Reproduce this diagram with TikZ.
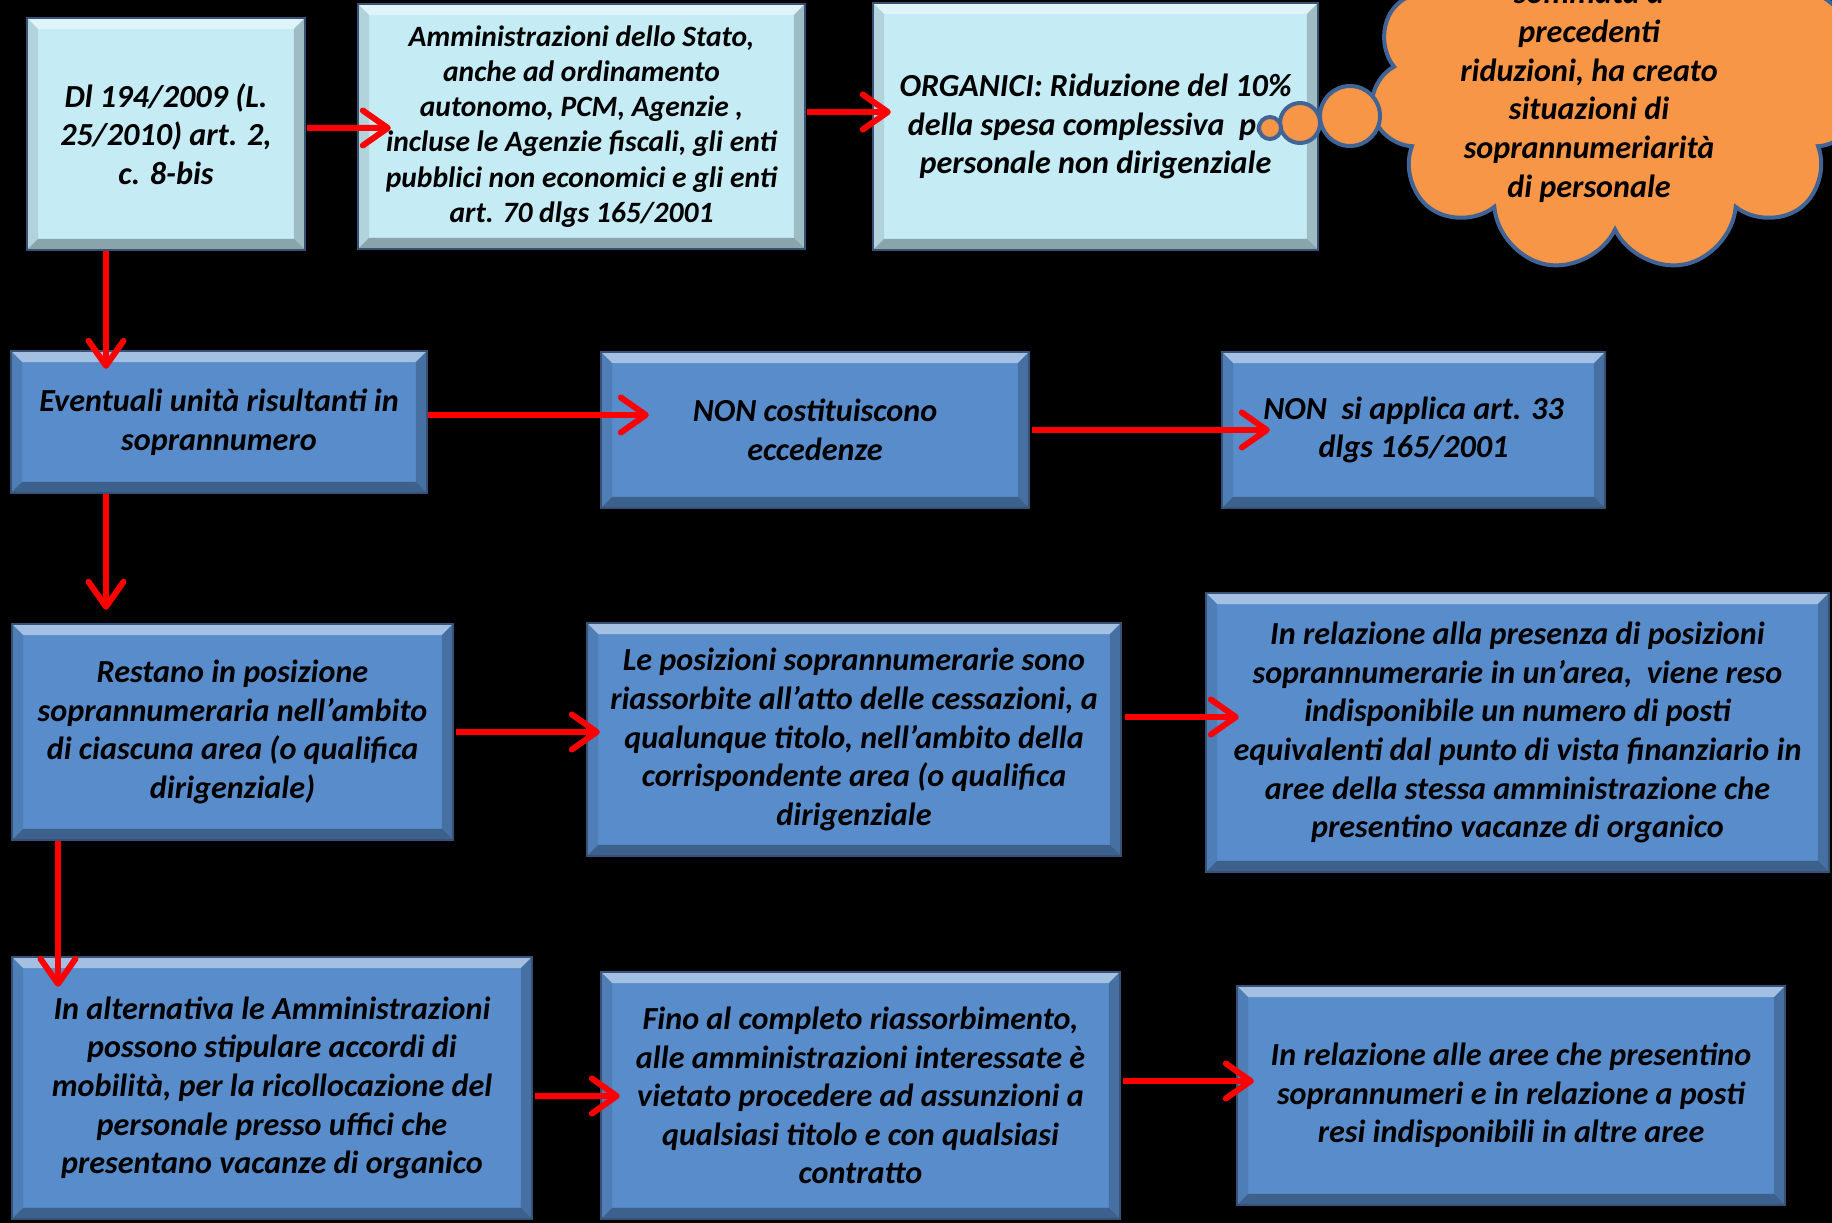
\documentclass[tikz,border=0pt]{standalone}
\usepackage{fontspec}
\setmainfont{Carlito}
\usepackage{tikz}
\usetikzlibrary{arrows.meta,calc,shapes.symbols}
\definecolor{boxlight}{RGB}{197,235,245}
\definecolor{boxblue}{RGB}{88,140,202}
\definecolor{boxedge}{RGB}{55,82,118}
\definecolor{cloudfill}{RGB}{247,150,70}
\definecolor{cloudedge}{RGB}{64,100,150}
\tikzset{
  bevel/.style={path picture={
      \fill[white,opacity=.45] (path picture bounding box.north west) -- (path picture bounding box.north east)
        -- ([shift={(-0.22cm,-0.22cm)}]path picture bounding box.north east) -- ([shift={(0.22cm,-0.22cm)}]path picture bounding box.north west) -- cycle;
      \fill[black,opacity=.30] (path picture bounding box.south west) -- (path picture bounding box.south east)
        -- ([shift={(-0.22cm,0.22cm)}]path picture bounding box.south east) -- ([shift={(0.22cm,0.22cm)}]path picture bounding box.south west) -- cycle;
      \fill[black,opacity=.10] (path picture bounding box.south west) -- (path picture bounding box.north west)
        -- ([shift={(0.22cm,-0.22cm)}]path picture bounding box.north west) -- ([shift={(0.22cm,0.22cm)}]path picture bounding box.south west) -- cycle;
      \fill[black,opacity=.20] (path picture bounding box.south east) -- (path picture bounding box.north east)
        -- ([shift={(-0.22cm,-0.22cm)}]path picture bounding box.north east) -- ([shift={(-0.22cm,0.22cm)}]path picture bounding box.south east) -- cycle;
    }},
  bigtxt/.style={font=\bfseries\itshape\fontsize{18.3}{22}\selectfont},
  smalltxt/.style={font=\bfseries\itshape\fontsize{16.8}{20}\selectfont},
  pbox/.style={draw=boxedge,line width=1.4pt,fill=#1,bevel,align=center,inner sep=2pt,bigtxt},
  bubble/.style={circle,draw=cloudedge,line width=0.08cm,fill=cloudfill,inner sep=0pt,minimum size=#1},
}

\begin{document}
\begin{tikzpicture}[x=0.02cm,y=-0.02cm,
    arr/.style={-{Straight Barb[length=0.5cm,width=0.7cm,round]},line width=0.12cm,red},
  ]
  \path[fill=black,use as bounding box] (0,0) rectangle (1832,1223);
  \clip (0,0) rectangle (1832,1223);

  \node[pbox=boxlight,minimum width=5.56cm,minimum height=4.64cm] (dl) at (166,134)
    {Dl 194/2009 (L.\\25/2010) art. 2,\\c. 8-bis};
  \node[pbox=boxlight,minimum width=8.94cm,minimum height=4.9cm,smalltxt] (amm) at (581.5,126.5)
    {Amministrazioni dello Stato,\\anche ad ordinamento\\autonomo, PCM, Agenzie ,\\incluse le Agenzie fiscali, gli enti\\pubblici non economici e gli enti\\art. 70 dlgs 165/2001};
  \node[pbox=boxlight,minimum width=8.9cm,minimum height=4.94cm] (org) at (1095.5,126.5)
    {ORGANICI: Riduzione del 10\%\\della spesa complessiva~ per\\personale non dirigenziale};

  \node[cloud,cloud puffs=11,cloud ignores aspect,draw=cloudedge,line width=0.08cm,fill=cloudfill,
    minimum width=9.8cm,minimum height=7.4cm,inner sep=0pt] (nota) at (1615,87) {};
  \node[bigtxt,align=center] (notatxt) at (1589,93)
    {sommata a\\precedenti\\riduzioni, ha creato\\situazioni di\\soprannumeriarità\\di personale};
  \node[bubble=1.2cm] (bub3) at (1350,116) {};
  \node[bubble=0.8cm] (bub2) at (1300,123) {};
  \node[bubble=0.44cm] (bub1) at (1270,128) {};

  \node[pbox=boxblue,minimum width=8.32cm,minimum height=2.84cm] (eve) at (219,422)
    {Eventuali unità risultanti in\\soprannumero};
  \node[pbox=boxblue,minimum width=8.56cm,minimum height=3.12cm] (noncost) at (815,430)
    {NON costituiscono\\eccedenze};
  \node[pbox=boxblue,minimum width=7.66cm,minimum height=3.12cm] (nonapp) at (1413.5,430)
    {NON~ si applica art. 33\\dlgs 165/2001};

  \node[pbox=boxblue,minimum width=8.82cm,minimum height=4.32cm] (restano) at (232.5,732)
    {Restano in posizione\\soprannumeraria nell’ambito\\di ciascuna area (o qualifica\\dirigenziale)};
  \node[pbox=boxblue,minimum width=10.68cm,minimum height=4.66cm] (lepos) at (854,739.5)
    {Le posizioni soprannumerarie sono\\riassorbite all’atto delle cessazioni, a\\qualunque titolo, nell’ambito della\\corrispondente area (o qualifica\\dirigenziale};
  \node[pbox=boxblue,minimum width=12.46cm,minimum height=5.58cm] (inrel) at (1517.5,732.5)
    {In relazione alla presenza di posizioni\\soprannumerarie in un’area,~ viene reso\\indisponibile un numero di posti\\equivalenti dal punto di vista finanziario in\\aree della stessa amministrazione che\\presentino vacanze di organico};

  \node[pbox=boxblue,minimum width=10.4cm,minimum height=5.24cm] (inalt) at (272,1088)
    {In alternativa le Amministrazioni\\possono stipulare accordi di\\mobilità, per la ricollocazione del\\personale presso uffici che\\presentano vacanze di organico};
  \node[pbox=boxblue,minimum width=10.38cm,minimum height=4.94cm] (fino) at (860.5,1095.5)
    {Fino al completo riassorbimento,\\alle amministrazioni interessate è\\vietato procedere ad assunzioni a\\qualsiasi titolo e con qualsiasi\\contratto};
  \node[pbox=boxblue,minimum width=10.96cm,minimum height=4.38cm] (inrelaree) at (1511,1095.5)
    {In relazione alle aree che presentino\\soprannumeri e in relazione a posti\\resi indisponibili in altre aree};

  \draw[arr] ($(dl.east)+(1,-6)$) -- ($(amm.west)+(34,1.5)$);
  \draw[arr] ($(amm.east)+(1,-14.5)$) -- ($(org.west)+(19,-14.5)$);
  \draw[arr] ($(dl.south)+(-60,0)$) -- ($(eve.north)+(-113,19)$);
  \draw[arr] ($(eve.east)+(0,-7)$) -- ($(noncost.west)+(49,-15)$);
  \draw[arr] ($(noncost.east)+(2,0)$) -- ($(nonapp.west)+(49,0)$);
  \draw[arr] ($(eve.south)+(-113,0)$) -- ($(restano.north)+(-126.5,-13)$);
  \draw[arr] ($(restano.east)+(2,0)$) -- ($(lepos.west)+(14,-7.5)$);
  \draw[arr] ($(lepos.east)+(3,-22.5)$) -- ($(inrel.west)+(34,-15.5)$);
  \draw[arr] ($(restano.south)+(-174.5,0)$) -- ($(inalt.north)+(-214,31)$);
  \draw[arr] ($(inalt.east)+(2,8)$) -- ($(fino.west)+(20,0.5)$);
  \draw[arr] ($(fino.east)+(2,-14.5)$) -- ($(inrelaree.west)+(18,-14.5)$);
\end{tikzpicture}
\end{document}
